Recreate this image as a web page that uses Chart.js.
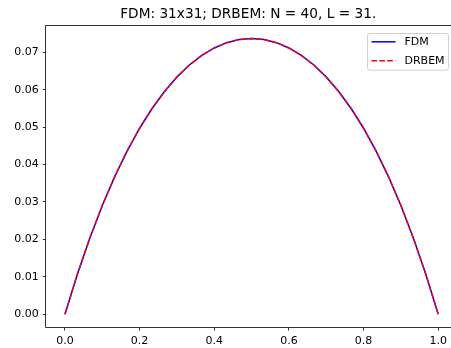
<!DOCTYPE html>
<html>
<head>
<meta charset="utf-8">
<script src="https://cdn.jsdelivr.net/npm/chart.js@4.4.1/dist/chart.umd.min.js"></script>
<style>
  html, body { margin: 0; padding: 0; background: #fff; overflow: hidden; }
</style>
</head>
<body>
<canvas id="profileChart" width="451" height="348"></canvas>
<script>
// x positions of the 31 grid nodes (0 .. 1)
const xNodes = [0, 0.0333, 0.0667, 0.1, 0.1333, 0.1667, 0.2, 0.2333, 0.2667, 0.3, 0.3333,
                0.3667, 0.4, 0.4333, 0.4667, 0.5, 0.5333, 0.5667, 0.6, 0.6333, 0.6667,
                0.7, 0.7333, 0.7667, 0.8, 0.8333, 0.8667, 0.9, 0.9333, 0.9667, 1];

// values
const fdmValues = [0, 0.01071, 0.02037, 0.02904, 0.03678, 0.04365, 0.04970, 0.05497, 0.05952,
                   0.06338, 0.06659, 0.06917, 0.07115, 0.07256, 0.07339, 0.07367, 0.07339,
                   0.07256, 0.07115, 0.06917, 0.06659, 0.06338, 0.05952, 0.05497, 0.04970,
                   0.04365, 0.03678, 0.02904, 0.02037, 0.01071, 0];
const drbemValues = [0, 0.01071, 0.02037, 0.02904, 0.03678, 0.04365, 0.04970, 0.05497, 0.05952,
                     0.06338, 0.06659, 0.06917, 0.07115, 0.07256, 0.07339, 0.07367, 0.07339,
                     0.07256, 0.07115, 0.06917, 0.06659, 0.06338, 0.05952, 0.05497, 0.04970,
                     0.04365, 0.03678, 0.02904, 0.02037, 0.01071, 0];

const seriesNames = ['FDM', 'DRBEM'];
const titleText = 'FDM: 31x31; DRBEM: N = 40, L = 31.';

const toPoints = (vals) => vals.map((v, i) => ({ x: xNodes[i], y: v }));

Chart.defaults.font.family = 'DejaVu Sans';
Chart.defaults.font.size = 11;
Chart.defaults.color = '#000';

// cadre des axes : haut, gauche, bas (le côté droit est hors de l'image)
const frame = {
  id: 'frame',
  afterDatasetsDraw(chart) {
    const a = chart.chartArea, ctx = chart.ctx;
    const l = Math.round(a.left) - 0.5, t = Math.round(a.top) - 0.5, b = Math.round(a.bottom) + 0.5;
    ctx.save();
    ctx.strokeStyle = '#333';
    ctx.lineWidth = 1;
    ctx.beginPath();
    ctx.moveTo(a.right + 2, t);
    ctx.lineTo(l, t);
    ctx.lineTo(l, b);
    ctx.lineTo(a.right + 2, b);
    ctx.stroke();
    ctx.restore();
  }
};

// légende dans le coin haut-droit
const legendBox = {
  id: 'legendBox',
  afterDraw(chart) {
    const a = chart.chartArea, ctx = chart.ctx;
    const w = 81, h = 36.7;
    const x0 = Math.round(a.right - 1.7 - w) + 0.5, y0 = Math.round(a.top + 7) + 0.5;
    ctx.save();
    ctx.beginPath();
    ctx.roundRect(x0, y0, w, h, 2.5);
    ctx.fillStyle = 'rgba(255,255,255,0.8)';
    ctx.fill();
    ctx.strokeStyle = '#d0d0d0';
    ctx.lineWidth = 1;
    ctx.stroke();
    chart.data.datasets.forEach((ds, i) => {
      const y = y0 + 8.3 + i * 19;
      ctx.beginPath();
      ctx.setLineDash(ds.borderDash || []);
      ctx.strokeStyle = ds.borderColor;
      ctx.lineWidth = ds.borderWidth;
      ctx.moveTo(x0 + 4, y);
      ctx.lineTo(x0 + 28, y);
      ctx.stroke();
      ctx.setLineDash([]);
      ctx.fillStyle = '#000';
      ctx.font = '11px "DejaVu Sans"';
      ctx.textBaseline = 'middle';
      ctx.fillText(ds.label, x0 + 37, y + 0.5);
    });
    ctx.restore();
  }
};

new Chart(document.getElementById('profileChart'), {
  type: 'line',
  data: {
    datasets: [{
      label: seriesNames[0],
      data: toPoints(fdmValues),
      borderColor: '#0000ff',
      borderWidth: 1.5,
      pointRadius: 0,
      tension: 0,
      order: 1
    }, {
      label: seriesNames[1],
      data: toPoints(drbemValues),
      borderColor: '#ff0000',
      borderWidth: 1.5,
      borderDash: [5.5, 2.4],
      pointRadius: 0,
      tension: 0,
      order: 0
    }]
  },
  options: {
    responsive: false,
    animation: false,
    layout: { padding: 0 },
    plugins: {
      legend: { display: false },
      tooltip: { enabled: false },
      title: {
        display: true,
        text: titleText,
        fullSize: false,   // centré sur la zone du graphique
        color: '#000',
        font: { size: 13.7, weight: 'normal' },
        padding: { top: 6, bottom: 3.6 }
      }
    },
    scales: {
      x: {
        type: 'linear',
        min: -0.05,
        max: 1.032,   // l'image est coupée à droite
        border: { display: false },
        grid: { drawOnChartArea: false, tickLength: 3.5, color: '#333', lineWidth: 1 },
        ticks: {
          stepSize: 0.2,
          includeBounds: false,
          maxRotation: 0,
          padding: 4,
          callback: (v) => v.toFixed(1)
        },
        afterFit: (s) => { s.height = 21; }
      },
      y: {
        min: -0.0034,
        max: 0.0770,
        border: { display: false },
        grid: { drawOnChartArea: false, tickLength: 3.5, color: '#333', lineWidth: 1 },
        ticks: {
          stepSize: 0.01,
          includeBounds: false,
          padding: 4,
          callback: (v) => v.toFixed(2)
        },
        afterFit: (s) => { s.width = 46.3; }
      }
    }
  },
  plugins: [frame, legendBox]
});
</script>
</body>
</html>
